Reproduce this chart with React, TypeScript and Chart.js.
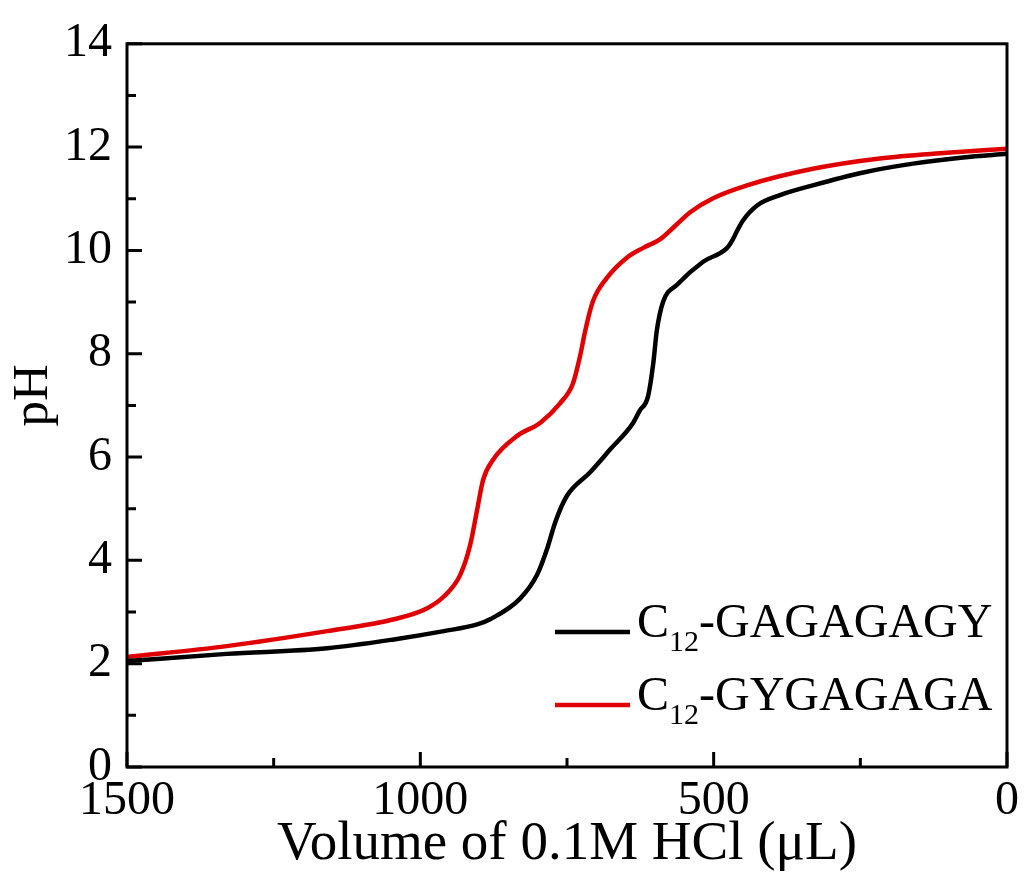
import React, { useEffect, useRef } from "react";
import { Chart, registerables } from "chart.js";

Chart.register(...registerables);

// Volume of 0.1M HCl (µL) and pH
const blackVolume = [1500, 1330, 1159, 1045, 960, 903, 881, 830, 801, 784, 770, 750, 711, 677, 638, 626, 612, 603, 597, 586, 562, 518, 477, 468, 460, 450, 426, 387, 331, 245, 160, 75, 0];
const blackPH = [2.05, 2.19, 2.30, 2.47, 2.63, 2.76, 2.86, 3.26, 3.72, 4.22, 4.74, 5.25, 5.70, 6.14, 6.65, 6.90, 7.17, 7.81, 8.44, 9.01, 9.34, 9.78, 10.05, 10.20, 10.38, 10.58, 10.87, 11.07, 11.26, 11.51, 11.68, 11.80, 11.87];

const redVolume = [1500, 1330, 1159, 1045, 989, 960, 932, 915, 903, 893, 876, 835, 796, 762, 740, 728, 719, 706, 682, 648, 620, 591, 569, 540, 501, 443, 331, 217, 102, 0];
const redPH = [2.13, 2.34, 2.63, 2.86, 3.07, 3.30, 3.72, 4.30, 4.99, 5.56, 5.95, 6.41, 6.66, 7.04, 7.42, 7.94, 8.44, 9.01, 9.47, 9.86, 10.05, 10.22, 10.44, 10.74, 11.01, 11.26, 11.58, 11.78, 11.89, 11.97];

const seriesNames = ["GAGAGAGY", "GYGAGAGA"];
const seriesPrefix = "C";
const seriesSub = "12";
const seriesColors = ["#000000", "#e00000"];

const xMajorTicks = [1500, 1000, 500, 0];
const xMinorTicks = [1250, 750, 250];
const yMajorTicks = [0, 2, 4, 6, 8, 10, 12, 14];
const yMinorTicks = [1, 3, 5, 7, 9, 11, 13];

const xTitle = "Volume of 0.1M HCl (\u03BCL)";
const yTitle = "pH";

const FONT = "'Liberation Serif', 'Times New Roman', serif";

const framePlugin = {
  id: "frame",
  afterDraw(chart: any) {
    const { ctx, chartArea } = chart;
    const { left, right, top, bottom } = chartArea;
    const xs = chart.scales.x;
    const ys = chart.scales.y;
    ctx.save();
    ctx.strokeStyle = "#000";
    ctx.lineWidth = 3;
    ctx.strokeRect(left, top, right - left, bottom - top);
    ctx.beginPath();
    xMajorTicks.forEach((v) => {
      const p = xs.getPixelForValue(v);
      ctx.moveTo(p, bottom);
      ctx.lineTo(p, bottom - 15);
    });
    xMinorTicks.forEach((v) => {
      const p = xs.getPixelForValue(v);
      ctx.moveTo(p, bottom);
      ctx.lineTo(p, bottom - 9);
    });
    yMajorTicks.forEach((v) => {
      const p = ys.getPixelForValue(v);
      ctx.moveTo(left, p);
      ctx.lineTo(left + 15, p);
    });
    yMinorTicks.forEach((v) => {
      const p = ys.getPixelForValue(v);
      ctx.moveTo(left, p);
      ctx.lineTo(left + 9, p);
    });
    ctx.stroke();

    // y-axis title
    ctx.save();
    ctx.fillStyle = "#000";
    ctx.font = `51px ${FONT}`;
    ctx.textAlign = "center";
    ctx.textBaseline = "alphabetic";
    ctx.translate(47, (top + bottom) / 2 - 10);
    ctx.rotate(-Math.PI / 2);
    ctx.fillText(yTitle, 0, 0);
    ctx.restore();

    // legend
    const rows = [bottom - 130, bottom - 57];
    seriesNames.forEach((name, i) => {
      const base = rows[i];
      ctx.strokeStyle = seriesColors[i];
      ctx.lineWidth = 4.5;
      ctx.beginPath();
      ctx.moveTo(right - 452, base - 5);
      ctx.lineTo(right - 377, base - 5);
      ctx.stroke();
      ctx.fillStyle = "#000";
      ctx.textBaseline = "alphabetic";
      ctx.textAlign = "left";
      let x = right - 370;
      ctx.font = `48px ${FONT}`;
      ctx.fillText(seriesPrefix, x, base);
      x += ctx.measureText(seriesPrefix).width;
      ctx.font = `30px ${FONT}`;
      ctx.fillText(seriesSub, x, base + 14);
      x += ctx.measureText(seriesSub).width;
      ctx.font = `48px ${FONT}`;
      ctx.fillText("-" + name, x, base);
    });
    ctx.restore();
  },
};

export default function App() {
  const ref = useRef<HTMLCanvasElement>(null);
  useEffect(() => {
    if (!ref.current) return;
    const chart = new Chart(ref.current, {
      type: "line",
      data: {
        datasets: [
          {
            label: seriesPrefix + seriesSub + "-" + seriesNames[0],
            data: blackVolume.map((v, i) => ({ x: v, y: blackPH[i] })),
            borderColor: seriesColors[0],
            borderWidth: 4.5,
            pointRadius: 0,
            cubicInterpolationMode: "monotone",
          },
          {
            label: seriesPrefix + seriesSub + "-" + seriesNames[1],
            data: redVolume.map((v, i) => ({ x: v, y: redPH[i] })),
            borderColor: seriesColors[1],
            borderWidth: 4.5,
            pointRadius: 0,
            cubicInterpolationMode: "monotone",
          },
        ],
      },
      options: {
        responsive: false,
        animation: false,
        layout: { padding: { top: 37, right: 19, left: 0, bottom: 0 } },
        plugins: { legend: { display: false }, tooltip: { enabled: false } },
        scales: {
          x: {
            type: "linear",
            reverse: true,
            min: 0,
            max: 1500,
            grid: { display: false, drawTicks: false },
            border: { display: false },
            ticks: {
              stepSize: 500,
              color: "#000",
              padding: 6,
              maxRotation: 0,
              font: { family: FONT, size: 48 },
              callback: (v: any) => String(v),
            },
            title: {
              display: true,
              text: xTitle,
              color: "#000",
              padding: { top: 0, bottom: 13 },
              font: { family: FONT, size: 55 },
            },
            afterFit: (s: any) => {
              s.height = 124;
            },
          },
          y: {
            min: 0,
            max: 14,
            grid: { display: false, drawTicks: false },
            border: { display: false },
            ticks: {
              stepSize: 2,
              color: "#000",
              padding: 15,
              font: { family: FONT, size: 48 },
              callback: (v: any) => String(v),
            },
            title: { display: false },
            afterFit: (s: any) => {
              s.width = 127;
            },
          },
        },
      },
      plugins: [framePlugin],
    });
    return () => chart.destroy();
  }, []);
  return (
    <div style={{ position: "fixed", left: 0, top: 0, width: 1026, height: 891, background: "#fff" }}>
      <canvas ref={ref} width={1026} height={891} />
    </div>
  );
}
